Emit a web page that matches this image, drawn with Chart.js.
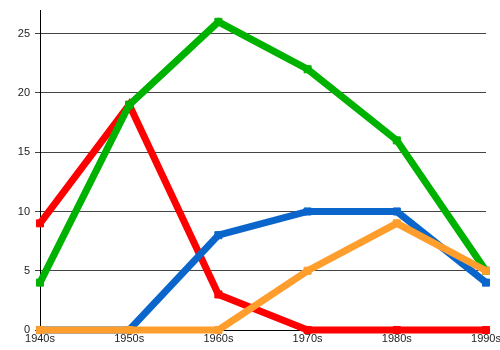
<!DOCTYPE html>
<html>
<head>
<meta charset="utf-8">
<script src="https://cdn.jsdelivr.net/npm/chart.js@4"></script>
<style>html,body{margin:0;padding:0;background:#fff;}canvas{display:block;}</style>
</head>
<body>
<canvas id="c" width="500" height="350"></canvas>
<script>
const categories = ['1940s','1950s','1960s','1970s','1980s','1990s'];
const redValues    = [9, 19, 3, 0, 0, 0];
const greenValues  = [4, 19, 26, 22, 16, 5];
const blueValues   = [0, 0, 8, 10, 10, 4];
const orangeValues = [0, 0, 0, 5, 9, 5];
const yTicks = [0, 5, 10, 15, 20, 25];

function ds(data, color) {
  return {
    data: data,
    borderColor: color,
    backgroundColor: color,
    pointBackgroundColor: color,
    pointBorderColor: color,
    borderWidth: 7,
    pointStyle: 'rect',
    pointRadius: 5,
    pointBorderWidth: 1,
    tension: 0,
    clip: false,
    borderJoinStyle: 'miter'
  };
}

new Chart(document.getElementById('c'), {
  type: 'line',
  data: {
    labels: categories,
    datasets: [
      ds(orangeValues, '#ff9e2c'),
      ds(blueValues, '#0b66cc'),
      ds(greenValues, '#00b200'),
      ds(redValues, '#ff0000')
    ]
  },
  options: {
    responsive: false,
    animation: false,
    devicePixelRatio: 1,
    layout: { padding: { top: 10, right: 14, left: 0, bottom: 0 } },
    plugins: { legend: { display: false }, tooltip: { enabled: false } },
    scales: {
      x: {
        offset: false,
        grid: { display: false, drawTicks: false },
        border: { display: true, color: '#000', width: 1 },
        ticks: { color: '#222', font: { family: 'Liberation Sans, Arial, sans-serif', size: 11 }, padding: 2, maxRotation: 0, autoSkip: false },
        afterFit: (s) => { s.height = 20; s.paddingLeft = 0; s.paddingRight = 0; }
      },
      y: {
        min: 0,
        max: 27,
        afterBuildTicks: (s) => { s.ticks = yTicks.map(v => ({ value: v })); },
        grid: { color: '#444', lineWidth: 1, tickLength: 5, drawTicks: true },
        border: { display: true, color: '#000', width: 1 },
        ticks: { color: '#222', font: { family: 'Liberation Sans, Arial, sans-serif', size: 11 }, padding: 5 },
        afterFit: (s) => { s.width = 40; s.paddingTop = 0; s.paddingBottom = 0; }
      }
    }
  }
});
</script>
</body>
</html>
